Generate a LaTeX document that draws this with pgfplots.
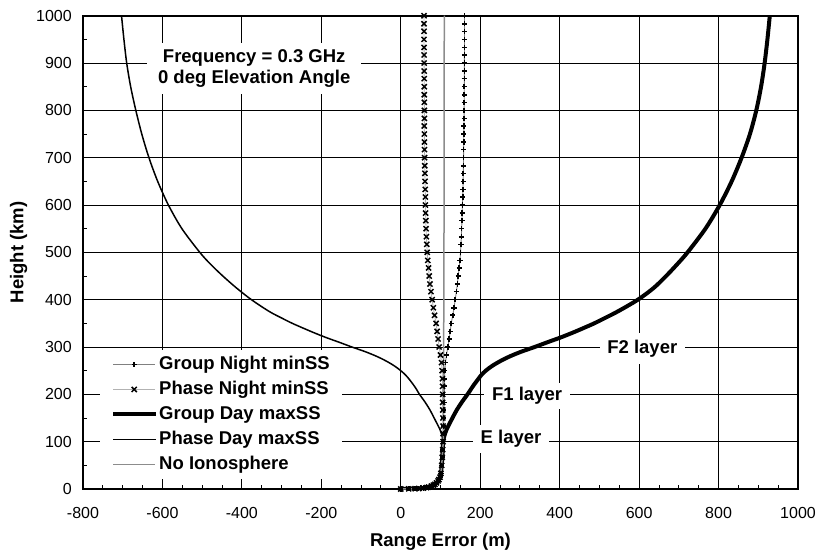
\documentclass[border=0pt]{standalone}
\usepackage{fontspec}
\setmainfont{Liberation Sans}
\usepackage{pgfplots}
\pgfplotsset{compat=1.18}

\pgfplotstableread{
h G P
0 0 0
0.3 20 20
0.6 36 36
1 45 45
2 57 57
3 65 65
4 70 70
6 77 77
8 82 82
10 86 86
13 90 90
17 94 94
20 96 96
25 99 99
33 101 101
50 103 103
67 104.5 104.5
83 105.5 105.5
100 106.5 106.5
117 107.3 106.7
133 107.6 106.4
150 108 106
167 108.3 105.7
183 108.6 105.4
200 109.5 105.5
217 109.8 105.2
233 110.2 104.8
250 111 104
267 112.5 102.5
283 115 100
300 118.5 96.5
317 122 94
333 124.5 91.5
350 127 89
367 131 85
383 134 82
400 137 79
417 140 76
433 142.5 73.5
450 144.5 71.5
467 147 70
483 149 68
500 150.5 66.5
517 151.5 65.5
533 152.5 64.5
550 153.3 63.7
567 154 63
583 154.5 62.5
600 155 62
617 156 62
633 156.5 61.5
650 157 61
667 157.3 60.7
683 157.7 60.3
700 158 60
717 158.3 59.7
733 158.5 59.5
750 158.7 59.3
767 158.9 59.1
783 159.5 59.5
800 159.6 59.4
817 159.7 59.3
833 159.8 59.2
850 159.9 59.1
867 160 59
883 160.1 58.9
900 160.2 58.8
917 160.3 58.7
933 160.4 58.6
950 160.5 58.5
967 160.5 58.5
983 160.5 58.5
1000 160.5 58.5
}\night

\pgfplotstableread{
h G P
0 0 0
0.3 20 20
0.6 36 36
1 45 45
2 57 57
3 65 65
4 70 70
6 77 77
8 82 82
10 86 86
13 90 90
17 94 94
20 96 96
25 99 99
33 101 101
50 103 103
67 104.5 104.5
83 105.5 105.5
100 106.5 106.5
110 109 104.5
125 115 99
150 130 84
167 141 73.5
185 155 60
200 168 47
210 176 40
220 184 32
230 193 23
240 202 13
250 214 0
260 230 -16
270 250 -36
280 274 -60
290 303 -89
300 337 -123
310 369 -155
320 402 -188
330 432 -218
340 460 -246
350 487 -273
360 511 -297
375 546 -331
400 597 -376
425 637 -414
450 668 -448
475 696 -479
500 722 -506
550 767 -551
600 803 -585
650 833 -612
700 858 -634
750 879 -652
800 895 -667
850 907 -680
900 916 -690
950 923 -697
1000 929 -703
}\day

\begin{document}
\begin{tikzpicture}
\useasboundingbox (-83pt,-62pt) rectangle (736pt,489pt);
\begin{axis}[
  at={(0pt,0pt)}, anchor=south west,
  scale only axis, width=715pt, height=473.3pt,
  xmin=-800, xmax=1000, ymin=0, ymax=1000,
  xtick={-800,-600,...,1000}, ytick={0,100,...,1000},
  minor x tick num=3, minor y tick num=1,
  tick pos=left, tick align=inside,
  major tick length=4pt, minor tick length=4pt,
  grid=major, major grid style={black, line width=0.9pt},
  axis line style={line width=1.8pt},
  tick style={black, line width=0.9pt},
  xlabel={Range Error (m)}, ylabel={Height (km)},
  label style={font=\fontsize{18.5}{22}\selectfont\bfseries},
  tick label style={font=\fontsize{16}{19}\selectfont},
  /pgf/number format/assume math mode=true,
  /pgf/number format/1000 sep={},
  xticklabel style={anchor=base, yshift=-29pt},
  yticklabel style={xshift=-7.7pt},
  xlabel style={at={(axis description cs:0.5,-0.112)}, anchor=center},
  ylabel style={at={(axis description cs:-0.09,0.5)}, anchor=center},
  legend style={at={(0.0238,0.2937)}, anchor=north west, draw=none, fill=white,
    font=\fontsize{18.5}{22}\selectfont\bfseries, inner xsep=11pt, inner ysep=4.5pt,
    row sep=5.5pt, column sep=1pt,
    nodes={inner sep=1pt, text height=13.5pt, text depth=4pt}},
  legend cell align=left,
  legend image code/.code={\draw[mark repeat=2,mark phase=2,#1] plot coordinates {(0pt,0pt)(21pt,0pt)(42pt,0pt)};},
]
\addplot[gray, line width=0.9pt, mark=+, mark size=2.6pt, mark options={black, line width=1.6pt}] table[x=G, y=h] {\night};
\addlegendentry{Group Night minSS}
\addplot[black!30, line width=0.9pt, mark=x, mark size=3.6pt, mark options={black, line width=1.5pt}] table[x=P, y=h] {\night};
\addlegendentry{Phase Night minSS}
\addplot[black, line width=4pt, smooth] table[x=G, y=h] {\day};
\addlegendentry{Group Day maxSS}
\addplot[black, line width=1.5pt, smooth] table[x=P, y=h] {\day};
\addlegendentry{Phase Day maxSS}
\addplot[black!45, line width=1.5pt] coordinates {(0,0) (20,0.3) (36,0.6) (45,1) (57,2) (65,3) (70,4) (77,6) (82,8) (86,10) (90,13) (94,17) (96,20) (99,25) (101,33) (103,50) (104.5,67) (105.5,83) (107,100) (108,300) (109,600) (109.5,1000)};
\addlegendentry{No Ionosphere}
\node[fill=white, inner xsep=11pt, inner ysep=6.5pt, align=center, font=\fontsize{18.5}{21}\selectfont\bfseries] at (axis cs:-369,889) {Frequency = 0.3 GHz\\0 deg Elevation Angle};
\node[fill=white, inner xsep=7.5pt, inner ysep=7pt, font=\fontsize{18.5}{22}\selectfont\bfseries] at (axis cs:608,297) {F2 layer};
\node[fill=white, inner xsep=8pt, inner ysep=4pt, font=\fontsize{18.5}{22}\selectfont\bfseries] at (axis cs:318,196.5) {F1 layer};
\node[fill=white, inner xsep=8pt, inner ysep=5pt, font=\fontsize{18.5}{22}\selectfont\bfseries] at (axis cs:277.5,105.7) {E layer};
\end{axis}
\end{tikzpicture}
\end{document}
